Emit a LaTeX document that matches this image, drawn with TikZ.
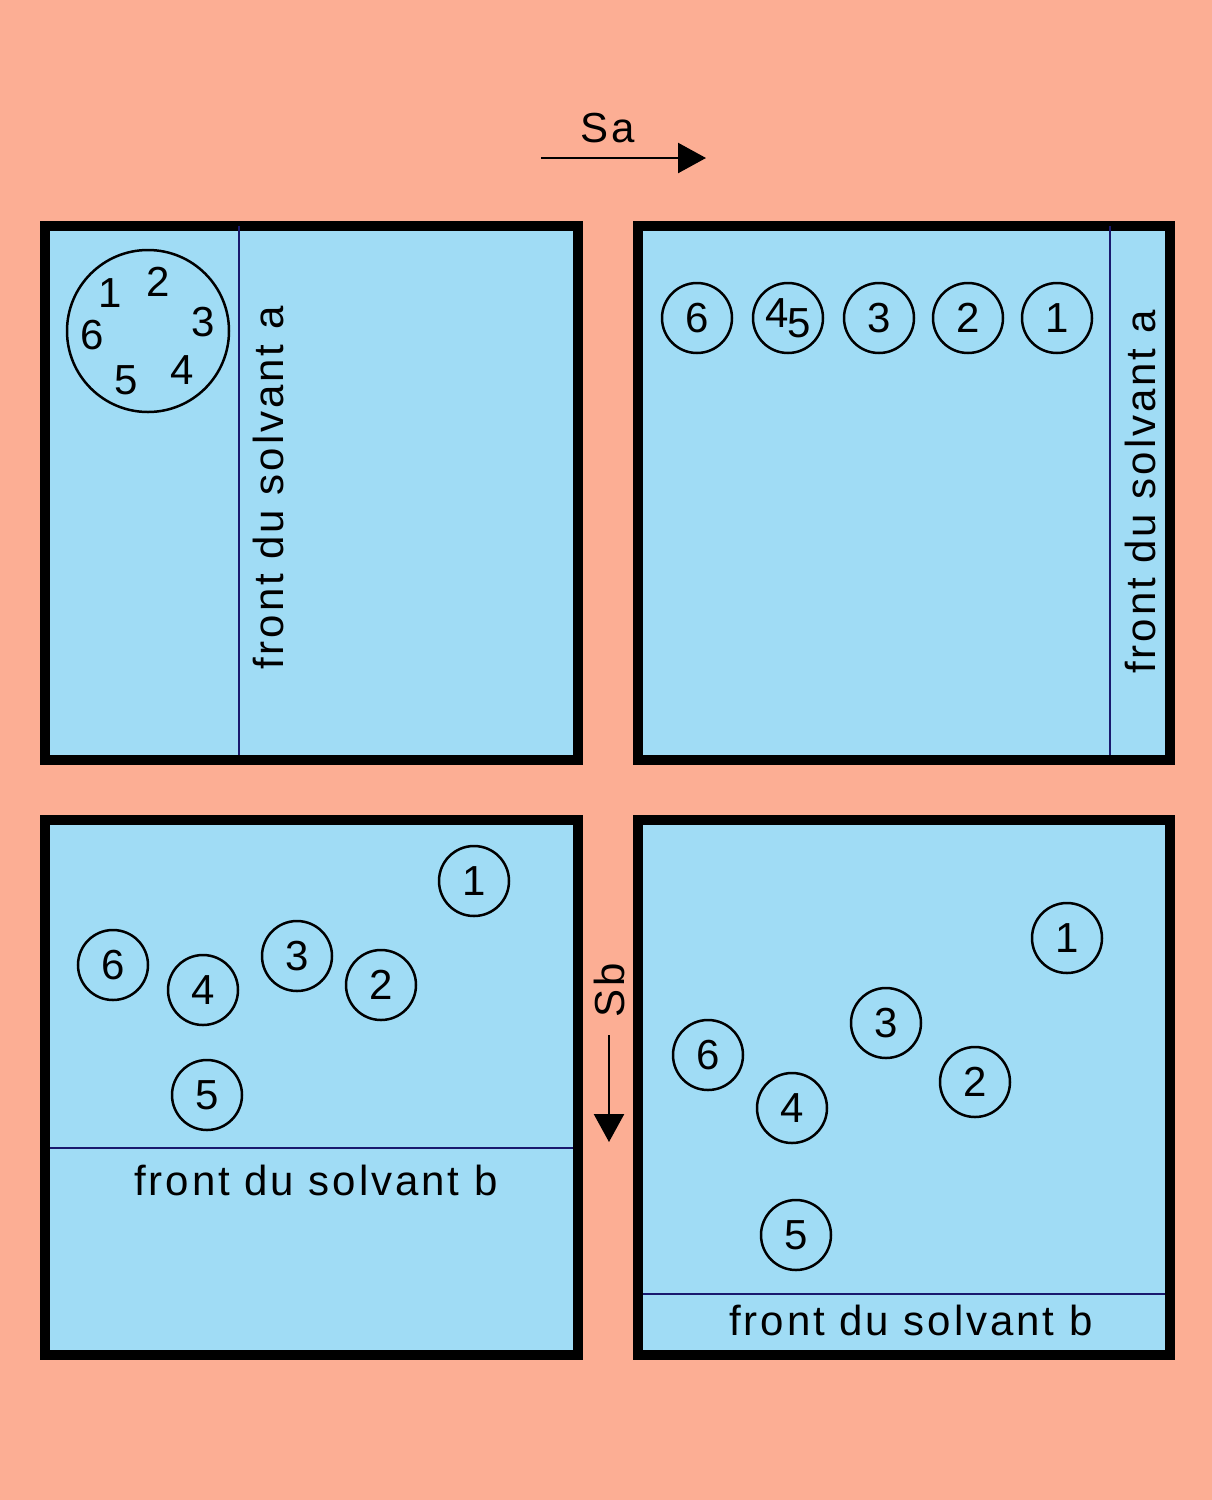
\documentclass[tikz,border=0pt]{standalone}
\usepackage{fontspec}
\setmainfont{Liberation Sans}
\usetikzlibrary{arrows.meta}
\definecolor{platecol}{RGB}{160,220,245}
\definecolor{backcol}{RGB}{252,174,148}
\definecolor{frontcol}{RGB}{25,25,110}

\begin{document}
\begin{tikzpicture}[
        x=1pt, y=-1pt,
        every node/.style={font=\fontsize{42}{48}\selectfont, inner sep=0pt},
        plate/.style={draw, line width=10pt, fill=platecol},
        spot/.style={circle, draw, line width=2.5pt, minimum size=70pt},
        front/.style={frontcol, line width=2pt},
        frontlab/.style={font=\fontsize{42}{48}\selectfont\addfontfeatures{LetterSpace=7}},
        flow/.style={-{Triangle[length=28pt, width=30pt]}, line width=2.5pt}
    ]
        % Background
        \fill[backcol] (0,0) rectangle (1212,1500);

        % Solvent a direction
        \coordinate (sa1) at (541,158);
        \coordinate (sa2) at (706,158);
        \draw[flow] (sa1) -- (sa2);
        \node[frontlab] (salab) at (608,128) {Sa};

        % Plate 1: deposit
        \draw[plate] (45,226) rectangle (578,760);
        \coordinate (fa1top) at (239,226);
        \coordinate (fa1bot) at (239,755);
        \draw[front] (fa1top) -- (fa1bot);
        \node[frontlab, rotate=90] (fa1lab) at (268,488) {front du solvant a};
        \node[circle, draw, line width=2.5pt, minimum size=162pt] (dep) at (148,331) {};
        \node (d1) at (110,293) {1};
        \node (d2) at (158,282) {2};
        \node (d3) at (203,322) {3};
        \node (d4) at (182,370) {4};
        \node (d5) at (126,380) {5};
        \node (d6) at (92,335) {6};

        % Plate 2: after solvent a
        \draw[plate] (638,226) rectangle (1170,760);
        \coordinate (fa2top) at (1110,226);
        \coordinate (fa2bot) at (1110,755);
        \draw[front] (fa2top) -- (fa2bot);
        \node[frontlab, rotate=90] (fa2lab) at (1140,492) {front du solvant a};
        \node[spot] (a6) at (697,318) {6};
        \node[spot] (a45) at (788,318) {\raisebox{5pt}{4}\kern-1pt\raisebox{-5pt}{5}};
        \node[spot] (a3) at (879,318) {3};
        \node[spot] (a2) at (968,318) {2};
        \node[spot] (a1) at (1057,318) {1};

        % Solvent b direction
        \coordinate (sb1) at (609,1035);
        \coordinate (sb2) at (609,1142);
        \draw[flow] (sb1) -- (sb2);
        \node[frontlab, rotate=90] (sblab) at (609,990) {Sb};

        % Plate 3: solvent b front
        \draw[plate] (45,820) rectangle (578,1355);
        \coordinate (fb1l) at (50,1148);
        \coordinate (fb1r) at (573,1148);
        \draw[front] (fb1l) -- (fb1r);
        \node[frontlab] (fb1lab) at (316,1180) {front du solvant b};
        \node[spot] (b1) at (474,881) {1};
        \node[spot] (b6) at (113,965) {6};
        \node[spot] (b4) at (203,990) {4};
        \node[spot] (b3) at (297,956) {3};
        \node[spot] (b2) at (381,985) {2};
        \node[spot] (b5) at (207,1095) {5};

        % Plate 4: final
        \draw[plate] (638,820) rectangle (1170,1355);
        \coordinate (fb2l) at (643,1294);
        \coordinate (fb2r) at (1165,1294);
        \draw[front] (fb2l) -- (fb2r);
        \node[frontlab] (fb2lab) at (911,1320) {front du solvant b};
        \node[spot] (c1) at (1067,938) {1};
        \node[spot] (c3) at (886,1023) {3};
        \node[spot] (c2) at (975,1082) {2};
        \node[spot] (c6) at (708,1055) {6};
        \node[spot] (c4) at (792,1108) {4};
        \node[spot] (c5) at (796,1235) {5};
    \end{tikzpicture}
\end{document}
